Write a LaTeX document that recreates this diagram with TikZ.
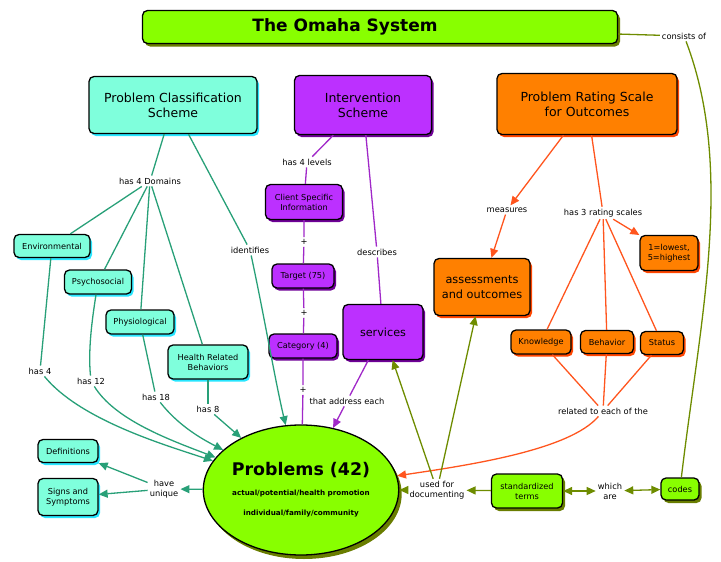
\documentclass[tikz,border=0pt]{standalone}
\usepackage{fontspec}
\setmainfont{DejaVu Sans}
\usetikzlibrary{arrows.meta,shapes.geometric,shadows}

\definecolor{limeF}{RGB}{136,255,0}
\definecolor{limeS}{RGB}{105,125,0}
\definecolor{aquaF}{RGB}{127,255,220}
\definecolor{aquaS}{RGB}{40,230,255}
\definecolor{violF}{RGB}{188,48,255}
\definecolor{violS}{RGB}{110,0,150}
\definecolor{orngF}{RGB}{255,128,0}
\definecolor{orngS}{RGB}{255,70,0}
\definecolor{tealL}{RGB}{40,160,120}
\definecolor{violL}{RGB}{160,40,200}
\definecolor{orngL}{RGB}{255,85,30}
\definecolor{oliveL}{RGB}{110,140,0}

\begin{document}
\begin{tikzpicture}[x=1pt, y=-1pt, >={Triangle[length=9pt,width=8pt]},
  box/.style={draw=black, line width=1.3pt, rounded corners=5pt, align=center, inner sep=1pt},
  bigbox/.style={box, font=\fontsize{12.5}{15}\selectfont},
  smallbox/.style={box, font=\fontsize{8.2}{10}\selectfont},
  limebox/.style={fill=limeF, drop shadow={shadow xshift=2.5pt, shadow yshift=-3pt, fill=limeS, opacity=1}},
  aquabox/.style={fill=aquaF, drop shadow={shadow xshift=2pt, shadow yshift=-2.5pt, fill=aquaS, opacity=1}},
  violbox/.style={fill=violF, drop shadow={shadow xshift=2pt, shadow yshift=-2.5pt, fill=violS, opacity=1}},
  orngbox/.style={fill=orngF, drop shadow={shadow xshift=2pt, shadow yshift=-2.5pt, fill=orngS, opacity=1}},
  lbl/.style={font=\fontsize{8.3}{10}\selectfont, align=center, inner sep=2pt},
  link/.style={line width=1.3pt}]

  \useasboundingbox (0,0) rectangle (721,562);

  %% Title
  \node[box, limebox, minimum width=475pt, minimum height=33pt,
        font=\fontsize{17}{20}\selectfont\bfseries] (omaha) at (380,27) {The Omaha System\hspace*{70pt}};
  \node[lbl] (consists) at (684,36) {consists of};

  %% The three parts
  \node[bigbox, aquabox, minimum width=168pt, minimum height=57pt] (pcs) at (173,105)
    {Problem Classification\\Scheme};
  \node[bigbox, violbox, minimum width=137pt, minimum height=59pt] (intv) at (363,105)
    {Intervention\\Scheme};
  \node[bigbox, orngbox, minimum width=180pt, minimum height=61pt] (prs) at (587,104)
    {Problem Rating Scale\\for Outcomes};

  %% Domains
  \node[smallbox, aquabox, minimum width=76pt, minimum height=23pt] (env) at (52,246) {Environmental};
  \node[smallbox, aquabox, minimum width=67pt, minimum height=24pt] (psych) at (98,282) {Psychosocial};
  \node[smallbox, aquabox, minimum width=68pt, minimum height=24pt] (physio) at (140,322) {Physiological};
  \node[smallbox, aquabox, minimum width=80pt, minimum height=34pt] (hrb) at (208,362) {Health Related\\Behaviors};
  \node[smallbox, aquabox, minimum width=60pt, minimum height=23pt] (defs) at (68,451) {Definitions};
  \node[smallbox, aquabox, minimum width=60pt, minimum height=37pt] (signs) at (68,497) {Signs and\\Symptoms};

  %% Intervention levels
  \node[smallbox, violbox, minimum width=77pt, minimum height=35pt] (csi) at (304,202) {Client Specific\\Information};
  \node[smallbox, violbox, minimum width=62pt, minimum height=24pt] (target) at (303,276) {Target (75)};
  \node[smallbox, violbox, minimum width=68pt, minimum height=24pt] (categ) at (303,346) {Category (4)};
  \node[box, violbox, minimum width=80pt, minimum height=55pt,
        font=\fontsize{11.2}{14}\selectfont] (serv) at (383,332) {services};

  %% Rating scales
  \node[box, orngbox, minimum width=96pt, minimum height=57pt,
        font=\fontsize{11.3}{15}\selectfont] (assess) at (482,287) {assessments\\and outcomes};
  \node[smallbox, orngbox, minimum width=58pt, minimum height=35pt] (scale15) at (669,253) {1=lowest,\\5=highest};
  \node[smallbox, orngbox, minimum width=60pt, minimum height=24pt] (know) at (541,342) {Knowledge};
  \node[smallbox, orngbox, minimum width=53pt, minimum height=23pt] (behav) at (607,342) {Behavior};
  \node[smallbox, orngbox, minimum width=43pt, minimum height=23pt] (status) at (662,343) {Status};

  %% Problems and terms
  \node[ellipse, draw=black, line width=1.3pt, fill=limeF, inner sep=0pt,
        minimum width=192pt, minimum height=130pt, align=center,
        drop shadow={shadow xshift=3pt, shadow yshift=-4pt, fill=limeS, opacity=1},
        font=\fontsize{7.2}{20}\selectfont\bfseries] (prob) at (301,490)
    {{\fontsize{17.4}{20}\selectfont Problems (42)}\\
     actual/potential/health promotion\\
     individual/family/community};
  \node[smallbox, limebox, minimum width=71pt, minimum height=34pt] (stdterms) at (527,491) {standardized\\terms};
  \node[smallbox, limebox, minimum width=38pt, minimum height=22pt] (codes) at (680,489) {codes};

  %% Linking phrases
  \node[lbl] (dom4) at (150,181) {has 4 Domains};
  \node[lbl] (ident) at (250,250) {identifies};
  \node[lbl] (h4) at (40,371) {has 4};
  \node[lbl] (h12) at (91,381) {has 12};
  \node[lbl] (h18) at (156,397) {has 18};
  \node[lbl] (h8) at (208,409) {has 8};
  \node[lbl] (unique) at (164,489) {have\\unique};
  \node[lbl] (lev4) at (307,162) {has 4 levels};
  \node[lbl] (plus1) at (304,242) {+};
  \node[lbl] (plus2) at (304,313) {+};
  \node[lbl] (plus3) at (303,390) {+};
  \node[lbl] (descr) at (377,252) {describes};
  \node[lbl] (addr) at (347,401) {that address each};
  \node[lbl] (meas) at (507,210) {measures};
  \node[lbl] (rate3) at (603,213) {has 3 rating scales};
  \node[lbl] (related) at (603,411) {related to each of the};
  \node[lbl] (usedfor) at (437,490) {used for\\documenting};
  \node[lbl] (which) at (610,491) {which\\are};

  %% Classification scheme links
  \draw[link, tealL] (pcs) -- (dom4);
  \foreach \d in {env,psych,physio,hrb}
    \draw[link, tealL] (dom4) -- (\d);
  \draw[link, tealL] (pcs) -- (ident);
  \draw[link, tealL, ->] (ident) .. controls (265,320) and (275,380) .. (prob);
  \foreach \d/\h in {env/h4, physio/h18, hrb/h8}
    \draw[link, tealL] (\d) -- (\h);
  \draw[link, tealL] (psych) .. controls (92,320) and (88,350) .. (h12);
  \draw[link, tealL, ->] (h4) .. controls (80,420) and (165,445) .. (prob);
  \draw[link, tealL, ->] (h12) .. controls (115,420) and (170,440) .. (prob);
  \draw[link, tealL, ->] (h18) .. controls (178,425) and (200,438) .. (prob);
  \draw[link, tealL, ->] (h8) -- (prob);
  \draw[link, tealL, ->] (prob) -- (unique);
  \draw[link, tealL, ->] (unique) -- (defs);
  \draw[link, tealL, ->] (unique) -- (signs);

  %% Intervention scheme links
  \draw[link, violL] (intv) -- (lev4) -- (csi);
  \draw[link, violL] (csi) -- (plus1) -- (target) -- (plus2) -- (categ) -- (plus3) -- (prob);
  \draw[link, violL] (intv) -- (descr) -- (serv);
  \draw[link, violL] (serv) -- (addr);
  \draw[link, violL, ->] (addr) -- (prob);

  %% Rating scale links
  \draw[link, orngL, ->] (prs) -- (meas);
  \draw[link, orngL, ->] (meas) -- (assess);
  \draw[link, orngL] (prs) -- (rate3);
  \draw[link, orngL, ->] (rate3) -- (scale15);
  \foreach \r in {know,behav,status}{
    \draw[link, orngL] (rate3) -- (\r);
    \draw[link, orngL] (\r) -- (related);
  }
  \draw[link, orngL, ->] (related) .. controls (570,450) and (470,465) .. (prob);

  %% Terms and codes
  \draw[link, oliveL] (omaha) -- (consists);
  \draw[link, oliveL] (consists) .. controls (735,170) and (700,320) .. (codes);
  \draw[link, oliveL, ->] (stdterms) -- (usedfor);
  \foreach \t in {prob,serv,assess}
    \draw[link, oliveL, ->] (usedfor) -- (\t);
  \draw[link, oliveL, <->] (stdterms) -- (which);
  \draw[link, oliveL, <->] (which) -- (codes);

\end{tikzpicture}
\end{document}
